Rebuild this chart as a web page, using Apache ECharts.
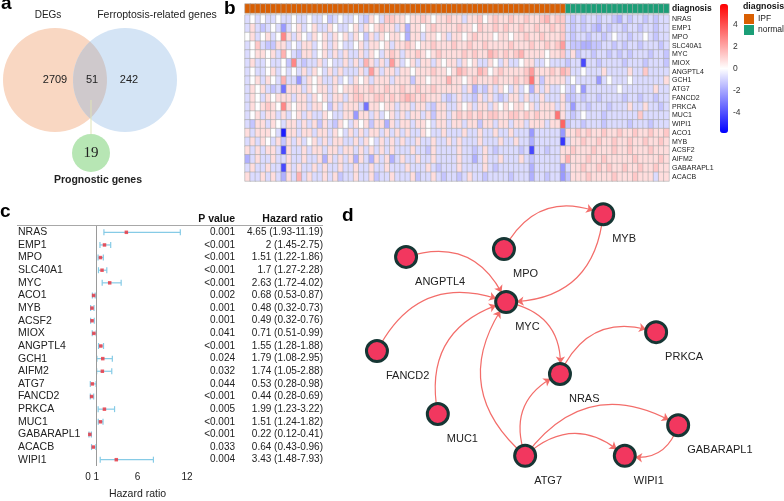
<!DOCTYPE html>
<html>
<head>
<meta charset="utf-8">
<script src="https://cdn.jsdelivr.net/npm/echarts@6/dist/echarts.min.js"></script>
<style>html,body{margin:0;padding:0;background:#fff}#main{width:784px;height:501px}</style>
</head>
<body>
<div id="main"></div>
<script>
// a: venn
var vennSets = ['DEGs', 'Ferroptosis-related genes', 'Prognostic genes'];
var vennCounts = [2709, 51, 242, 19]; // DEGs only, overlap, ferroptosis only, prognostic

// b: heatmap (z-scores, samples in columns)
var heatGenes = ['NRAS','EMP1','MPO','SLC40A1','MYC','MIOX','ANGPTL4','GCH1','ATG7','FANCD2','PRKCA','MUC1','WIPI1','ACO1','MYB','ACSF2','AIFM2','GABARAPL1','ACACB'];
var groupNames = ['IPF', 'normal'];
var groupSizes = [62, 20];
var scaleTicks = [4, 2, 0, -2, -4];

var zNRAS = [-.8,0,-.8,0,-.8,-.8,0,-.8,-.8,0, -.8,-.8,0,-.8,-.8,0,-1.3,-.8,0,-.8, -.8,0,-.8,-1.3,.8,0,-.8,1.3,1.3,.8, .8,0,.8,.8,1.3,.8,0,.8,.8,1.3, .8,.8,-.8,.8,.8,1.3,0,.8,1.3,.8, .8,1.3,.8,.8,1.3,.8,.8,1.3,1.8,.8, 1.3,1.3, -.8,-1.3,-.8,-1.3,-.8,-.8,-1.3,-.8,-.8,-1.3, -1.8,-.8,-1.3,-.8,-.8,-1.3,-.8,-1.3,-.8,-.8];
var zEMP1 = [-.8,.8,-.8,-1.3,-.8,0,-.8,-2.3,-.8,0, .8,-.8,0,.8,-.8,-.8,.8,0,-.8,-.8, 0,.8,-.8,.8,0,.8,1.3,.8,.8,-.8, .8,-1.8,.8,.8,0,.8,1.3,.8,.8,.8, .8,1.3,.8,.8,0,1.3,.8,.8,1.3,.8, 1.3,.8,.8,1.3,.8,.8,1.3,.8,.8,1.3, .8,1.3, -.8,-1.3,-.8,-1.3,-.8,-1.3,-1.8,-.8,-1.3,-.8, -.8,-1.3,-.8,-.8,-1.3,-.8,-.8,-1.3,-.8,-.8];
var zMPO = [0,.8,-.8,0,.8,-.8,0,2.8,.8,-.8, .8,0,-.8,.8,0,.8,-.8,.8,0,.8, -.8,.8,0,-1.3,.8,-.8,.8,0,.8,.8, 0,-1.8,.8,.8,-.8,.8,.8,0,.8,-.8, .8,.8,0,.8,1.3,.8,.8,.8,0,.8, .8,0,.8,.8,1.3,.8,.8,1.3,.8,.8, .8,1.3, -.8,-1.3,-.8,-.8,-1.3,-.8,-.8,-1.3,-.8,0, -.8,-.8,-1.3,-.8,-.8,0,-.8,-1.3,-.8,-.8];
var zSLC40A1 = [-.8,0,1.3,-.8,-1.3,-1.3,.8,.8,-.8,0, -.8,.8,.8,-.8,0,.8,-.8,.8,0,-.8, -.8,0,.8,-.8,.8,.8,0,.8,-.8,.8, .8,1.3,.8,0,.8,.8,1.3,.8,.8,.8, 1.3,.8,.8,1.3,.8,.8,1.3,.8,.8,.8, .8,1.3,.8,.8,.8,1.3,.8,.8,1.3,.8, 1.3,2.3, -.8,-1.3,-1.3,-1.8,-1.8,-1.3,-1.3,-.8,-.8,-1.3, -.8,-1.3,-.8,-.8,-1.3,-.8,-.8,-.8,-1.3,-.8];
var zMYC = [-.8,0,.8,.8,0,.8,-.8,1.8,0,-.8, -1.3,.8,.8,-.8,0,.8,-.8,.8,-.8,.8, -.8,-.8,.8,-.8,.8,0,-.8,.8,1.3,.8, -.8,.8,.8,1.3,.8,0,.8,1.3,.8,.8, .8,.8,1.3,.8,1.3,.8,.8,1.8,1.3,.8, 1.3,.8,1.3,1.8,.8,.8,.8,.8,0,.8, .8,1.3, -.8,.8,-1.3,-.8,-.8,-1.3,-.8,-.8,-1.3,-.8, -1.3,-.8,-1.3,-.8,-.8,-.8,-1.3,-.8,-.8,-1.3];
var zMIOX = [-.8,.8,-.8,-.8,0,-.8,-.8,0,-1.3,2.8, -.8,-1.3,-.8,-.8,.8,-.8,0,-.8,-.8,.8, -.8,.8,-.8,1.8,.8,-.8,.8,-.8,2.3,.8, -.8,0,.8,-.8,.8,.8,-.8,.8,0,.8, .8,-.8,.8,0,.8,-.8,-.8,.8,0,-.8, .8,-.8,-.8,0,.8,.8,-.8,-.8,0,-.8, -.8,-.8, -1.3,-.8,-.8,-4.2,-.8,-.8,-1.3,-.8,-.8,-.8, -.8,-1.3,-.8,-.8,-.8,-1.3,-.8,-.8,-.8,-1.3];
var zANGPTL4 = [-.8,0,-.8,-.8,0,.8,-.8,0,-.8,0, -.8,.8,-.8,.8,0,-.8,.8,-.8,.8,-.8, -.8,-.8,.8,-.8,2.3,.8,-.8,.8,.8,-.8, .8,.8,0,.8,.8,.8,1.3,.8,.8,0, .8,1.8,1.3,.8,.8,1.8,1.3,0,.8,1.3, .8,.8,.8,.8,1.3,2.3,.8,.8,.8,1.3, .8,1.8, 1.3,-.8,-.8,0,-.8,-.8,-.8,.8,-.8,-.8, -.8,-.8,.8,-.8,-.8,1.3,-.8,-.8,-.8,-.8];
var zGCH1 = [-.8,0,.8,-.8,.8,0,-.8,1.8,-.8,-.8, -2.3,-.8,.8,0,.8,-.8,-.8,.8,-.8,0, -.8,.8,0,.8,-.8,.8,.8,.8,-.8,.8, .8,.8,-1.3,.8,.8,0,.8,.8,.8,1.8, .8,.8,0,.8,1.3,.8,.8,.8,1.3,.8, .8,.8,1.3,.8,1.3,3.2,.8,-1.3,.8,.8, .8,.8, -.8,0,-.8,-.8,-.8,-.8,-2.3,-.8,0,-.8, -.8,-.8,0,-.8,-.8,-.8,-.8,-.8,-.8,.8];
var zATG7 = [-.8,.8,0,.8,-.8,-1.3,-.8,-3.2,.8,.8, .8,-.8,.8,0,.8,.8,-.8,.8,0,.8, .8,1.3,.8,.8,1.3,.8,.8,1.3,.8,.8, 1.3,.8,.8,1.3,.8,.8,1.3,.8,.8,.8, .8,.8,-.8,.8,-1.8,-.8,-1.3,.8,-.8,.8, 0,-.8,.8,-.8,0,-1.8,.8,-.8,.8,-.8, -.8,0, -.8,-1.3,0,-2.3,-.8,-.8,-.8,-.8,-.8,-.8, 0,-.8,-.8,-.8,-.8,-.8,-.8,.8,-.8,-.8];
var zFANCD2 = [-.8,.8,0,-.8,.8,0,.8,.8,.8,-.8, .8,.8,-.8,.8,0,.8,-.8,.8,.8,-.8, .8,1.3,1.3,.8,.8,1.3,1.3,.8,1.3,.8, 1.3,1.8,1.3,.8,1.3,.8,.8,.8,-.8,-1.3, -.8,.8,-.8,-.8,-1.3,.8,-.8,.8,-.8,-1.3, -.8,.8,.8,-.8,.8,-.8,-.8,.8,-.8,-.8, -.8,.8, -1.3,-1.3,-.8,-1.3,-.8,-.8,-1.3,-.8,-.8,-.8, -.8,-1.3,-.8,-.8,-1.3,-.8,-.8,-1.3,-.8,-.8];
var zPRKCA = [-.8,.8,0,.8,1.3,.8,0,2.8,.8,0, .8,.8,-.8,.8,.8,0,-1.3,.8,-.8,.8, .8,.8,-.8,-3.2,.8,.8,0,.8,.8,-.8, .8,.8,-.8,.8,.8,-.8,-1.3,.8,.8,-.8, -.8,.8,0,.8,-.8,.8,.8,-.8,.8,0, .8,0,.8,.8,0,.8,-.8,.8,.8,.8, -.8,.8, -.8,-2.3,-.8,-.8,-1.3,-.8,-.8,-.8,-1.3,-.8, -.8,-.8,.8,-.8,-.8,.8,-.8,-.8,-1.3,-.8];
var zMUC1 = [-.8,0,.8,-.8,.8,.8,-.8,.8,-.8,0, .8,-.8,.8,-.8,-.8,.8,0,-.8,-.8,.8, .8,-2.3,.8,.8,-.8,.8,-.8,0,.8,-.8, .8,-.8,.8,.8,-.8,.8,-1.3,.8,.8,-.8, .8,1.3,.8,1.3,.8,1.3,.8,1.3,1.3,.8, .8,1.3,1.3,.8,1.3,.8,1.3,.8,.8,.8, 3.2,.8, -.8,-1.3,-.8,0,-.8,-.8,-.8,-1.3,-.8,-.8, -.8,-.8,-.8,-.8,1.3,-.8,-.8,-.8,-.8,-.8];
var zWIPI1 = [-.8,-1.3,.8,.8,-.8,.8,0,-.8,.8,.8, -.8,.8,-.8,.8,-1.3,.8,-.8,-1.3,.8,0, -.8,.8,0,.8,-1.3,.8,.8,-1.8,.8,-.8, .8,.8,-.8,.8,.8,0,-.8,.8,.8,-.8, .8,.8,-.8,.8,.8,-1.3,.8,.8,-.8,.8, .8,-.8,.8,.8,-.8,.8,.8,.8,-.8,.8, .8,3.6, -1.3,-.8,-.8,-1.3,-.8,-.8,-.8,-1.3,-.8,-.8, -.8,-.8,-1.3,-.8,-.8,-.8,-1.3,-.8,-.8,-.8];
var zACO1 = [.8,-.8,.8,.8,.8,0,-.8,-5.2,.8,.8, -.8,.8,.8,-.8,.8,.8,-.8,.8,0,-.8, .8,-.8,.8,-.8,.8,.8,-.8,.8,-.8,.8, -.8,.8,-.8,-.8,.8,0,-.8,-.8,.8,-.8, -.8,-.8,.8,-.8,-.8,.8,-.8,-.8,.8,-.8, -.8,.8,-.8,-.8,-.8,-2.3,-.8,-.8,-.8,-.8, -.8,-2.3, .8,.8,1.3,.8,1.3,.8,.8,1.3,.8,.8, 1.3,.8,.8,1.3,.8,.8,1.3,.8,.8,1.3];
var zMYB = [-.8,.8,-.8,.8,0,-.8,.8,-1.3,.8,-.8, .8,-.8,0,.8,-.8,.8,-.8,.8,.8,-.8, -.8,.8,-.8,.8,0,-.8,.8,-.8,.8,-.8, .8,-.8,-.8,.8,-.8,-.8,.8,-.8,-.8,.8, -.8,.8,-.8,-.8,-.8,.8,-.8,-.8,-.8,.8, -.8,-.8,.8,-.8,-.8,-1.8,-.8,-.8,-.8,-.8, -.8,-4.6, -.8,.8,.8,1.3,.8,.8,1.3,.8,.8,1.3, .8,.8,1.3,.8,.8,1.3,.8,.8,1.3,.8];
var zACSF2 = [.8,-.8,.8,-.8,.8,.8,-.8,-4.2,.8,-.8, -.8,.8,-.8,.8,.8,-.8,.8,.8,-.8,.8, .8,-.8,.8,-.8,.8,-.8,.8,-.8,.8,-.8, -.8,-.8,.8,-.8,-.8,-1.3,.8,-.8,-.8,-.8, -.8,.8,-.8,-.8,-1.3,-.8,.8,-.8,-1.3,-.8, -.8,-.8,-.8,-1.3,-.8,-4.2,-.8,-.8,-1.3,-.8, -.8,.8, .8,1.3,.8,.8,.8,1.3,.8,.8,.8,1.3, .8,.8,1.3,.8,.8,.8,1.3,.8,.8,.8];
var zAIFM2 = [-1.8,-.8,.8,-.8,-.8,.8,-.8,-.8,.8,-.8, -.8,.8,-.8,-.8,.8,-1.8,.8,-.8,.8,-.8, .8,-1.8,.8,-.8,-1.8,.8,-.8,.8,-1.8,-.8, .8,-.8,-.8,.8,-.8,-.8,.8,-.8,-.8,-.8, -.8,.8,-.8,-.8,-1.8,-.8,.8,-.8,-.8,.8, -.8,-.8,-.8,.8,-.8,-1.3,-.8,-.8,-.8,-.8, -.8,.8, 1.8,.8,.8,.8,1.3,.8,.8,1.3,.8,.8, .8,.8,.8,1.3,.8,.8,.8,.8,1.3,.8];
var zGABARAPL1 = [-.8,.8,-.8,-.8,.8,-.8,-.8,-4.2,.8,-.8, .8,-.8,-.8,.8,-.8,.8,-.8,-.8,.8,-.8, -.8,.8,-.8,-.8,.8,-.8,-.8,.8,-.8,-.8, -.8,.8,-.8,-.8,-.8,.8,-.8,-1.3,-.8,-.8, -.8,.8,-.8,-.8,-.8,-.8,.8,-.8,-1.3,-.8, -.8,-.8,-.8,-.8,-.8,-1.8,-.8,-.8,-.8,-.8, -.8,-2.3, -.8,.8,.8,1.3,.8,.8,1.3,.8,1.3,.8, .8,1.3,.8,.8,1.3,.8,.8,1.3,.8,.8];
var zACACB = [.8,-.8,-.8,.8,-.8,.8,-.8,-1.8,.8,-.8, 1.8,-.8,.8,-.8,-.8,.8,-.8,.8,-1.3,-.8, -.8,.8,-.8,-.8,.8,-1.3,-.8,-.8,.8,-.8, -.8,-.8,.8,-1.3,-.8,-.8,.8,-.8,-1.3,-.8, -.8,-1.3,-.8,.8,-.8,-.8,-1.3,-.8,-.8,-.8, -.8,-1.3,-.8,-.8,-.8,-1.8,-.8,-.8,-1.3,-.8, -.8,-2.3, -1.3,.8,.8,.8,1.3,.8,.8,.8,.8,1.3, .8,.8,.8,1.3,.8,.8,.8,-.8,.8,.8];
var heatRows = [zNRAS, zEMP1, zMPO, zSLC40A1, zMYC, zMIOX, zANGPTL4, zGCH1, zATG7, zFANCD2, zPRKCA, zMUC1, zWIPI1, zACO1, zMYB, zACSF2, zAIFM2, zGABARAPL1, zACACB];

// c: forest plot
var forestGenes = ['NRAS','EMP1','MPO','SLC40A1','MYC','ACO1','MYB','ACSF2','MIOX','ANGPTL4','GCH1','AIFM2','ATG7','FANCD2','PRKCA','MUC1','GABARAPL1','ACACB','WIPI1'];
var pValues = ['0.001','<0.001','<0.001','<0.001','<0.001','0.002','0.001','0.001','0.041','<0.001','0.024','0.032','0.044','<0.001','0.005','<0.001','<0.001','0.033','0.004'];
var hrValue = [4.65, 2, 1.51, 1.7, 2.63, 0.68, 0.48, 0.49, 0.71, 1.55, 1.79, 1.74, 0.53, 0.44, 1.99, 1.51, 0.22, 0.64, 3.43];
var hrLow = [1.93, 1.45, 1.22, 1.27, 1.72, 0.53, 0.32, 0.32, 0.51, 1.28, 1.08, 1.05, 0.28, 0.28, 1.23, 1.24, 0.12, 0.43, 1.48];
var hrHigh = [11.19, 2.75, 1.86, 2.28, 4.02, 0.87, 0.73, 0.76, 0.99, 1.88, 2.95, 2.88, 0.98, 0.69, 3.22, 1.82, 0.41, 0.96, 7.93];
var hrTicks = [0, 1, 6, 12];

// d: network (layout units 0-100)
var netNodes = ['MYB','MPO','ANGPTL4','MYC','PRKCA','NRAS','FANCD2','MUC1','GABARAPL1','ATG7','WIPI1'];
var netX = [59.0, 36.5, 14.3, 37.0, 71.0, 49.2, 7.7, 21.5, 76.0, 41.3, 63.9];
var netY = [4.7, 16.3, 18.9, 33.9, 43.9, 57.8, 50.2, 71.1, 74.8, 85.0, 85.0];
var netEdges = [['MPO','MYB'],['MYB','MYC'],['ANGPTL4','MYC'],['FANCD2','MYC'],['MUC1','MYC'],['ATG7','MYC'],['MYC','NRAS'],['NRAS','PRKCA'],['ATG7','NRAS'],['ATG7','GABARAPL1'],['ATG7','WIPI1'],['GABARAPL1','WIPI1']];

var FONT = 'Liberation Sans';

// samples
var sampleGroup = [];
groupSizes.forEach(function (n, g) { for (var k = 0; k < n; k++) sampleGroup.push(g); });
var sampleIds = sampleGroup.map(function (g, i) { return 'S' + (i + 1); });

var heatData = [];
heatRows.forEach(function (row, r) {
    row.forEach(function (v, c) { heatData.push([c, r, v]); });
});
var annotData = sampleGroup.map(function (g, c) { return [c, 0, g]; });

var hidden = { show: false };

var myChart = echarts.init(document.getElementById('main'));

var option = {
    animation: false,
    textStyle: { fontFamily: FONT },
    grid: [
        { left: 0, top: 0, width: 195, height: 200 },      // a
        { left: 245, top: 4, width: 424, height: 9 },      // b annotation
        { left: 245, top: 15, width: 424, height: 166 },   // b heatmap
        { left: 720, top: 4, width: 8, height: 129 },      // b colour scale
        { left: 88, top: 226, width: 99, height: 249 },    // c
        { left: 343, top: 200, width: 441, height: 301 }   // d
    ],
    xAxis: [
        { gridIndex: 0, type: 'value', min: 0, max: 195, show: false },
        { gridIndex: 1, type: 'category', data: sampleIds, show: false },
        { gridIndex: 2, type: 'category', data: sampleIds, show: false },
        { gridIndex: 3, type: 'value', show: false },
        {
            gridIndex: 4, type: 'value', min: 0, max: 12,
            splitLine: { show: false },
            axisLine: { lineStyle: { color: '#333' } },
            axisTick: { customValues: hrTicks, length: 4, lineStyle: { color: '#333' } },
            axisLabel: { customValues: hrTicks, fontSize: 10, color: '#222', margin: 6 },
            name: 'Hazard ratio', nameLocation: 'middle', nameGap: 23,
            nameTextStyle: { fontSize: 10.5, color: '#222' }
        },
        { gridIndex: 5, type: 'value', min: 0, max: 100, show: false }
    ],
    yAxis: [
        { gridIndex: 0, type: 'value', min: 0, max: 200, inverse: true, show: false },
        {
            gridIndex: 1, type: 'category', data: ['diagnosis'], position: 'right',
            axisLine: hidden, axisTick: hidden,
            axisLabel: { fontSize: 8.5, fontWeight: 'bold', color: '#111', margin: 3 }
        },
        {
            gridIndex: 2, type: 'category', data: heatGenes, inverse: true, position: 'right',
            axisLine: hidden, axisTick: hidden,
            axisLabel: { interval: 0, fontSize: 7, color: '#222', margin: 3 }
        },
        {
            gridIndex: 3, type: 'value', min: -5.85, max: 5.9, position: 'right',
            axisLine: hidden, axisTick: hidden, splitLine: hidden,
            axisLabel: { customValues: scaleTicks, fontSize: 8.5, color: '#333', margin: 5 }
        },
        {
            gridIndex: 4, type: 'category', data: forestGenes, inverse: true,
            axisLine: hidden, axisTick: hidden,
            axisLabel: { interval: 0, align: 'left', margin: 70, fontSize: 10.5, color: '#222' }
        },
        {
            gridIndex: 4, type: 'category', data: forestGenes, inverse: true, position: 'right', offset: 48,
            axisLine: hidden, axisTick: hidden,
            axisLabel: {
                interval: 0, align: 'right', margin: 0, fontSize: 10, color: '#222',
                formatter: function (v, i) { return pValues[i]; }
            }
        },
        {
            gridIndex: 4, type: 'category', data: forestGenes, inverse: true, position: 'right', offset: 136,
            axisLine: hidden, axisTick: hidden,
            axisLabel: {
                interval: 0, align: 'right', margin: 0, fontSize: 10, color: '#222',
                formatter: function (v, i) { return hrValue[i] + ' (' + hrLow[i] + '-' + hrHigh[i] + ')'; }
            }
        },
        { gridIndex: 5, type: 'value', min: 0, max: 100, inverse: true, show: false }
    ],
    visualMap: [
        {
            type: 'continuous', seriesIndex: 2, dimension: 2,
            min: -5.85, max: 5.9, calculable: false, padding: 0,
            left: 720, top: 4, itemWidth: 8, itemHeight: 129,
            inRange: { color: ['#0000ff', '#ffffff', '#ff0000'] },
            textStyle: { fontSize: 0 }
        },
        {
            type: 'piecewise', seriesIndex: 1, dimension: 2,
            pieces: [
                { value: 0, label: groupNames[0], color: '#d95f02' },
                { value: 1, label: groupNames[1], color: '#1b9e77' }
            ],
            left: 744, top: 14, itemWidth: 10, itemHeight: 10, itemGap: 1, textGap: 4,
            padding: 0, selectedMode: false, itemSymbol: 'rect', align: 'left', inverse: true,
            textStyle: { fontSize: 8.5, color: '#222' }
        }
    ],
    graphic: [
        { type: 'text', x: 1, y: 4, style: { text: 'a', font: 'bold 19px ' + FONT, fill: '#000', verticalAlign: 'middle' } },
        { type: 'text', x: 224, y: 9, style: { text: 'b', font: 'bold 19px ' + FONT, fill: '#000', verticalAlign: 'middle' } },
        { type: 'text', x: 0, y: 212, style: { text: 'c', font: 'bold 19px ' + FONT, fill: '#000', verticalAlign: 'middle' } },
        { type: 'text', x: 342, y: 216, style: { text: 'd', font: 'bold 19px ' + FONT, fill: '#000', verticalAlign: 'middle' } },
        { type: 'text', x: 743, y: 7, style: { text: 'diagnosis', font: 'bold 8.8px ' + FONT, fill: '#111', verticalAlign: 'middle' } },
        { type: 'text', x: 235, y: 219, style: { text: 'P value', font: 'bold 10.5px ' + FONT, fill: '#111', align: 'right', verticalAlign: 'middle' } },
        { type: 'text', x: 323, y: 219, style: { text: 'Hazard ratio', font: 'bold 10.5px ' + FONT, fill: '#111', align: 'right', verticalAlign: 'middle' } },
        { type: 'line', shape: { x1: 17, y1: 225.5, x2: 323, y2: 225.5 }, style: { stroke: '#a8a8a8', lineWidth: 1 } }
    ],
    series: [
        {
            // a: venn diagram
            type: 'custom', xAxisIndex: 0, yAxisIndex: 0, clip: false, silent: true,
            data: [[0, 0]],
            renderItem: function (params, api) {
                var p = function (x, y) { return api.coord([x, y]); };
                var r = api.size([52, 0])[0];
                var rs = api.size([19, 0])[0];
                var A = p(55, 80), B = p(125, 80), C = p(91, 153);
                var half = (B[0] - A[0]) / 2;
                var h = Math.sqrt(r * r - half * half);
                var mx = (A[0] + B[0]) / 2;
                var lens = 'M' + mx + ' ' + (A[1] - h) + ' A' + r + ' ' + r + ' 0 0 1 ' + mx + ' ' + (A[1] + h) +
                    ' A' + r + ' ' + r + ' 0 0 1 ' + mx + ' ' + (A[1] - h) + ' Z';
                var txt = function (x, y, s, font) {
                    return { type: 'text', x: x, y: y, style: { text: s, font: font, fill: '#222', align: 'center', verticalAlign: 'middle' } };
                };
                return {
                    type: 'group', children: [
                        { type: 'circle', shape: { cx: A[0], cy: A[1], r: r }, style: { fill: '#f9d7c2' } },
                        { type: 'circle', shape: { cx: B[0], cy: B[1], r: r }, style: { fill: '#d4e4f5' } },
                        { type: 'path', shape: { pathData: lens }, style: { fill: '#cfc9cc' } },
                        { type: 'line', shape: { x1: C[0], y1: A[1] + 20, x2: C[0], y2: C[1] - rs }, style: { stroke: '#dfe3b6', lineWidth: 1 } },
                        { type: 'circle', shape: { cx: C[0], cy: C[1], r: rs }, style: { fill: '#b7e6b4' } },
                        txt(A[0] - 7, 15, vennSets[0], '10px ' + FONT),
                        txt(157, 15, vennSets[1], '10.5px ' + FONT),
                        txt(A[0], A[1], String(vennCounts[0]), '11px ' + FONT),
                        txt(mx + 2, A[1], String(vennCounts[1]), '11px ' + FONT),
                        txt(B[0] + 4, B[1], String(vennCounts[2]), '11px ' + FONT),
                        txt(C[0], C[1], String(vennCounts[3]), '15px "Liberation Serif"'),
                        txt(C[0] + 7, 180, vennSets[2], 'bold 10.5px ' + FONT)
                    ]
                };
            }
        },
        {
            // b: diagnosis annotation
            type: 'heatmap', xAxisIndex: 1, yAxisIndex: 1, data: annotData,
            itemStyle: { borderColor: '#aaaaaa', borderWidth: 0.6 },
            emphasis: { disabled: true }, silent: true
        },
        {
            // b: expression heatmap
            type: 'heatmap', xAxisIndex: 2, yAxisIndex: 2, data: heatData,
            itemStyle: { borderColor: '#aaaaaa', borderWidth: 0.6 },
            emphasis: { disabled: true }, silent: true
        },
        {
            // c: confidence intervals
            type: 'custom', xAxisIndex: 4, yAxisIndex: 4, silent: true,
            encode: { x: [0, 2], y: 1 },
            data: forestGenes.map(function (g, i) { return [hrLow[i], i, hrHigh[i]]; }),
            renderItem: function (params, api) {
                var lo = api.coord([api.value(0), api.value(1)]);
                var hi = api.coord([api.value(2), api.value(1)]);
                var st = { stroke: '#86cbe6', lineWidth: 1.2 };
                return {
                    type: 'group', children: [
                        { type: 'line', shape: { x1: lo[0], y1: lo[1], x2: hi[0], y2: hi[1] }, style: st },
                        { type: 'line', shape: { x1: lo[0], y1: lo[1] - 3, x2: lo[0], y2: lo[1] + 3 }, style: st },
                        { type: 'line', shape: { x1: hi[0], y1: hi[1] - 3, x2: hi[0], y2: hi[1] + 3 }, style: st }
                    ]
                };
            }
        },
        {
            // c: hazard ratio points
            type: 'scatter', xAxisIndex: 4, yAxisIndex: 4, silent: true,
            symbol: 'rect', symbolSize: 3.5, itemStyle: { color: '#e8303c' },
            data: hrValue.map(function (v, i) { return [v, i]; }),
            z: 3,
            markLine: {
                silent: true, symbol: ['none', 'none'], label: { show: false },
                lineStyle: { color: '#9a9a9a', width: 1, type: 'solid' },
                data: [{ xAxis: 1 }]
            }
        },
        {
            // d: interaction network
            type: 'graph', coordinateSystem: 'cartesian2d', xAxisIndex: 5, yAxisIndex: 7,
            silent: true, symbol: 'circle', symbolSize: 21,
            itemStyle: { color: '#f2375f', borderColor: '#163634', borderWidth: 3 },
            label: { show: true, position: [21, 37], align: 'left', verticalAlign: 'middle', fontSize: 11, color: '#222' },
            edgeSymbol: ['none', 'arrow'], edgeSymbolSize: 7,
            lineStyle: { color: '#f36d6a', width: 1.2, curveness: 0.45, opacity: 1 },
            emphasis: { disabled: true },
            data: netNodes.map(function (n, i) { return { name: n, value: [netX[i], netY[i]] }; }),
            links: netEdges.map(function (e) { return { source: e[0], target: e[1] }; })
        }
    ]
};

myChart.setOption(option);
</script>
</body>
</html>
